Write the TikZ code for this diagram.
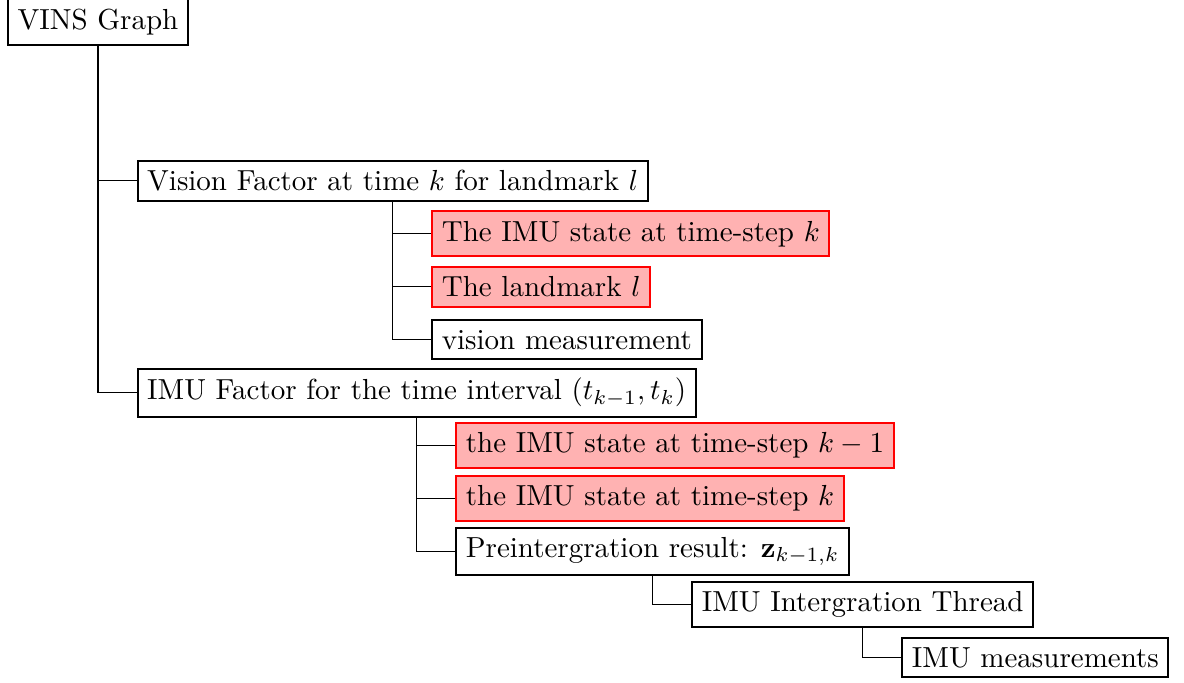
\documentclass[tikz,border=0pt]{standalone}
\tikzset{
  box/.style={
    draw,
    line width=0.7pt,
    anchor=west
  },
  sub/.style={xshift=13.3pt},
  hit/.style={draw=red, fill=red!30},
  branch/.style={line width=0.4pt}
}

\begin{document}
\begin{tikzpicture}[x=1pt, y=-18.26pt]
\useasboundingbox (0pt,7.6pt) rectangle (408.3pt,-227.6pt);

\node[box] (root) at (2.4,0) {VINS Graph};

% vision factor
\node[box, sub] (vis) at (root.south |- 0,3) {Vision Factor at time $k$ for landmark $l$};
\node[box, sub, hit] (visstate) at (vis.south |- 0,4) {The IMU state at time-step $k$};
\node[box, sub, hit] (vislm) at (vis.south |- 0,5) {The landmark $l$};
\node[box, sub] (vismeas) at (vis.south |- 0,6) {vision measurement};

% imu factor
\node[box, sub] (imu) at (root.south |- 0,7) {IMU Factor for the time interval $(t_{k-1},t_k)$};
\node[box, sub, hit] (imuprev) at (imu.south |- 0,8) {the IMU state at time-step $k-1$};
\node[box, sub, hit] (imucur) at (imu.south |- 0,9) {the IMU state at time-step $k$};
\node[box, sub] (preint) at (imu.south |- 0,10) {Preintergration result: $\mathbf{z}_{k-1,k}$};
\node[box, sub] (thread) at (preint.south |- 0,11) {IMU Intergration Thread};
\node[box, sub] (meas) at (thread.south |- 0,12) {IMU measurements};

\draw[branch] (root.south) |- (vis.west);
\draw[branch] (root.south) |- (imu.west);
\draw[branch] (vis.south) |- (visstate.west);
\draw[branch] (vis.south) |- (vislm.west);
\draw[branch] (vis.south) |- (vismeas.west);
\draw[branch] (imu.south) |- (imuprev.west);
\draw[branch] (imu.south) |- (imucur.west);
\draw[branch] (imu.south) |- (preint.west);
\draw[branch] (preint.south) |- (thread.west);
\draw[branch] (thread.south) |- (meas.west);

\end{tikzpicture}
\end{document}
